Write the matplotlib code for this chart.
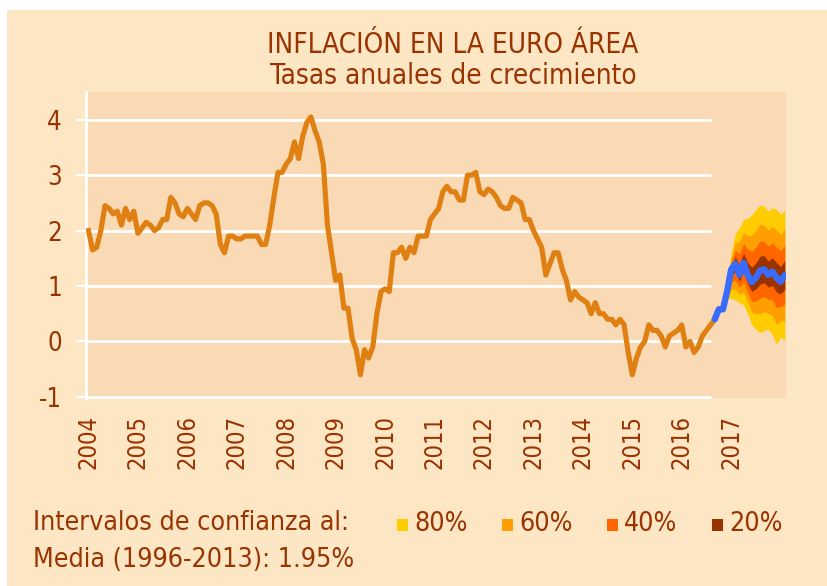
import matplotlib.pyplot as plt
from matplotlib.patches import Rectangle
import numpy as np

plt.rcParams['font.family'] = ['DejaVu Sans']
plt.rcParams['font.stretch'] = 'condensed'
plt.rcParams['axes.unicode_minus'] = False

W, H = 827, 586
TXT = '#993300'
OUTER = '#FDE6C4'
INNER = '#F9DAB4'

years = list(range(2004, 2018))

# monthly inflation, Jan 2004 .. Sep 2016
hicp = [2.0, 1.65, 1.7, 2.0, 2.45, 2.4, 2.3, 2.35, 2.1, 2.4, 2.2, 2.35,
        1.95, 2.05, 2.15, 2.1, 2.0, 2.05, 2.2, 2.2, 2.6, 2.5, 2.3, 2.25,
        2.4, 2.3, 2.2, 2.45, 2.5, 2.5, 2.45, 2.3, 1.75, 1.6, 1.9, 1.9,
        1.85, 1.85, 1.9, 1.9, 1.9, 1.9, 1.75, 1.75, 2.1, 2.6, 3.05, 3.05,
        3.2, 3.3, 3.6, 3.3, 3.7, 3.95, 4.05, 3.8, 3.6, 3.2, 2.1, 1.6,
        1.1, 1.2, 0.6, 0.6, 0.05, -0.15, -0.6, -0.15, -0.3, -0.1, 0.5, 0.9,
        0.95, 0.9, 1.6, 1.6, 1.7, 1.5, 1.7, 1.6, 1.9, 1.9, 1.9, 2.2,
        2.3, 2.4, 2.7, 2.8, 2.7, 2.7, 2.55, 2.55, 3.0, 3.0, 3.05, 2.7,
        2.65, 2.75, 2.7, 2.6, 2.45, 2.4, 2.4, 2.6, 2.55, 2.5, 2.2, 2.2,
        2.0, 1.85, 1.7, 1.2, 1.4, 1.6, 1.6, 1.3, 1.1, 0.75, 0.9, 0.8,
        0.75, 0.7, 0.5, 0.7, 0.5, 0.5, 0.4, 0.4, 0.3, 0.4, 0.3, -0.2,
        -0.6, -0.3, -0.1, 0.0, 0.3, 0.2, 0.2, 0.1, -0.1, 0.1, 0.15, 0.2,
        0.3, -0.1, 0.0, -0.2, -0.1, 0.1, 0.2, 0.3, 0.4]

# forecast path, Sep 2016 .. Feb 2018
forecast = [0.40, 0.58, 0.58, 0.90, 1.30, 1.40, 1.20, 1.42, 1.20,
            1.07, 1.15, 1.28, 1.30, 1.20, 1.26, 1.15, 1.08, 1.20]

# confidence bands, Nov 2016 .. Feb 2018
up80 = [0.58, 1.05, 1.60, 1.95, 2.05, 2.20, 2.22, 2.28, 2.38, 2.46, 2.44, 2.35, 2.41, 2.38, 2.29, 2.38]
lo80 = [0.58, 0.78, 0.78, 0.75, 0.70, 0.66, 0.50, 0.30, 0.22, 0.16, 0.20, 0.22, 0.12, -0.05, 0.08, 0.02]
up60 = [0.58, 1.00, 1.51, 1.79, 1.80, 1.97, 1.91, 1.92, 2.01, 2.11, 2.10, 2.01, 2.07, 2.01, 1.93, 2.03]
lo60 = [0.58, 0.82, 0.94, 0.95, 0.85, 0.89, 0.71, 0.53, 0.50, 0.50, 0.53, 0.51, 0.46, 0.31, 0.38, 0.37]
up40 = [0.58, 0.97, 1.44, 1.65, 1.58, 1.77, 1.66, 1.62, 1.70, 1.81, 1.81, 1.72, 1.78, 1.70, 1.63, 1.73]
lo40 = [0.58, 0.85, 1.07, 1.11, 0.98, 1.08, 0.89, 0.72, 0.73, 0.78, 0.81, 0.76, 0.75, 0.61, 0.63, 0.67]
up20 = [0.58, 0.93, 1.37, 1.52, 1.39, 1.59, 1.42, 1.34, 1.42, 1.54, 1.55, 1.45, 1.51, 1.42, 1.35, 1.46]
lo20 = [0.58, 0.87, 1.19, 1.26, 1.09, 1.25, 1.05, 0.90, 0.95, 1.03, 1.06, 0.98, 1.01, 0.89, 0.86, 0.94]

band_labels = ['80%', '60%', '40%', '20%']
band_colors = ['#FFCC00', '#FF9E00', '#FF6600', '#993300']

fig = plt.figure(figsize=(W / 100, H / 100), dpi=100)
fig.patch.set_facecolor('white')
fig.patches.append(Rectangle((7 / W, 0), 1, 1 - 10 / H, transform=fig.transFigure,
                             facecolor=OUTER, edgecolor='none', zorder=-5))

ax = fig.add_axes([86 / W, (H - 398) / H, 700 / W, 306 / H])
ax.set_zorder(2)
ax.set_facecolor(INNER)

m_hist = np.arange(len(hicp))
m_fc = np.arange(len(hicp) - 1, len(hicp) - 1 + len(forecast))
m_band = np.arange(154, 154 + len(up80))

# white gridlines stop where the history ends
for yv in [-1, 0, 1, 2, 3, 4]:
    ax.plot([-0.5, 151], [yv, yv], color='white', lw=2.0, zorder=1,
            solid_capstyle='butt', clip_on=False)

bands = [(up80, lo80), (up60, lo60), (up40, lo40), (up20, lo20)]
for (up, lo), c in zip(bands, band_colors):
    ax.fill_between(m_band, lo, up, color=c, lw=0, zorder=2)

ax.plot(m_hist, hicp, color='#E07F12', lw=3.7, zorder=3, solid_joinstyle='round')
ax.plot(m_fc, forecast, color='#3A6BFF', lw=4.6, zorder=4, solid_joinstyle='round',
        solid_capstyle='round')

ax.set_xlim(-0.6, 169.3)
ax.set_ylim(-1.02, 4.5)
for s in ['top', 'right', 'bottom']:
    ax.spines[s].set_visible(False)
ax.spines['left'].set_color('white')
ax.spines['left'].set_linewidth(2.0)

ax.set_yticks([-1, 0, 1, 2, 3, 4])
ax.tick_params(axis='y', colors='white', length=7.5, width=1.5, labelsize=18.5, pad=10)
for lab in ax.get_yticklabels():
    lab.set_color(TXT)

ax.set_xticks([12 * (y - 2004) for y in years])
ax.set_xticklabels([str(y) for y in years], rotation=90)
ax.tick_params(axis='x', length=0, labelsize=17, pad=12)
for lab in ax.get_xticklabels():
    lab.set_color(TXT)

fig.text(453 / W, 1 - 45 / H, 'INFLACIÓN EN LA EURO ÁREA', ha='center', va='center',
         fontsize=20, color=TXT)
fig.text(453 / W, 1 - 76 / H, 'Tasas anuales de crecimiento', ha='center', va='center',
         fontsize=20, color=TXT)

fig.text(33 / W, 1 - 523 / H, 'Intervalos de confianza al:', ha='left', va='center',
         fontsize=19.2, color=TXT)
fig.text(33 / W, 1 - 560 / H, 'Media (1996-2013): 1.95%', ha='left', va='center',
         fontsize=19.2, color=TXT)

for i, (lab, c) in enumerate(zip(band_labels, band_colors)):
    x0 = 397 + i * 105
    fig.patches.append(Rectangle((x0 / W, 1 - 531 / H), 11 / W, 12 / H,
                                 transform=fig.transFigure, facecolor=c, edgecolor='none'))
    fig.text((x0 + 17) / W, 1 - 524 / H, lab, ha='left', va='center', fontsize=19.2, color=TXT)

fig.savefig('out.png', dpi=100, facecolor=fig.get_facecolor())
